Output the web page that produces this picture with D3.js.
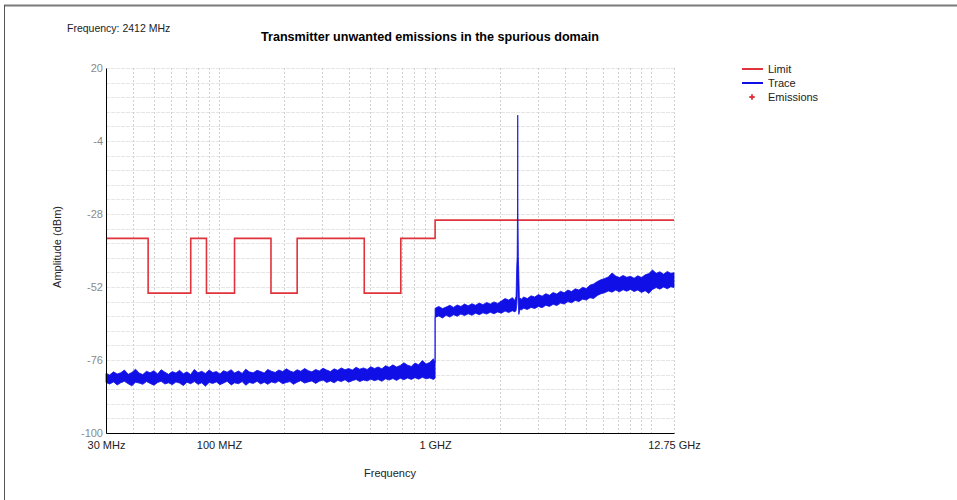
<!DOCTYPE html>
<html>
<head>
<meta charset="utf-8">
<script src="https://cdn.jsdelivr.net/npm/d3@7"></script>
<style>
  html, body { margin: 0; padding: 0; background: #fff; }
  svg { display: block; font-family: "Liberation Sans", Arial, sans-serif; }
</style>
</head>
<body>
<svg id="chart" width="957" height="500"></svg>
<script>
// ---- Data ----
const yTickValues = [20, -4, -28, -52, -76, -100];
const yTickLabels = ["20", "-4", "-28", "-52", "-76", "-100"];
const xTickValues = [30, 100, 1000, 12750];
const xTickLabels = ["30 MHz", "100 MHZ", "1 GHZ", "12.75 GHz"];

// Limit (dBm), step after each frequency (MHz)
const limitFreq  = [30, 47, 74, 87.5, 118, 174, 230, 470, 694, 1000, 12750];
const limitLevel = [-36, -54, -36, -54, -36, -54, -36, -54, -36, -30, -30];

// Trace envelope (MHz, dBm min / max)
const traceFreq = [
  30, 31.2, 32.5, 33.8, 35.1, 36.5, 38, 39.5, 41.1, 42.7, 44.4, 46.2, 48, 50, 52, 54, 56.2, 58.4, 60.8, 63.2,
  65.7, 68.4, 71.1, 73.9, 76.9, 80, 83.2, 86.5, 90, 93.6, 97.3, 101, 105, 109, 114, 118, 123, 128, 133, 138,
  144, 150, 156, 162, 168, 175, 182, 189, 197, 205, 213, 221, 230, 239, 249, 259, 269, 280, 291, 303,
  315, 328, 341, 354, 368, 383, 398, 414, 431, 448, 466, 485, 504, 524, 545, 567, 590, 613, 638, 663,
  690, 717, 746, 776, 807, 839, 873, 908, 944, 982, 1000,
  1000, 1040, 1082, 1125, 1170, 1217, 1265, 1316, 1369, 1423, 1480, 1539, 1601, 1665, 1732, 1801, 1873, 1948, 2026, 2107,
  2191, 2279, 2340, 2370, 2385, 2398, 2408, 2412, 2416, 2428, 2440, 2455, 2475, 2500, 2570, 2673, 2780, 2891, 3007, 3127,
  3252, 3382, 3518, 3658, 3805, 3957, 4115, 4280, 4451, 4629, 4814, 5007, 5207, 5415, 5632, 5857, 6091, 6335, 6588, 6852,
  7126, 7411, 7707, 8016, 8336, 8670, 9016, 9377, 9752, 10142, 10548, 10970, 11409, 11865, 12340, 12750
];
const traceMin = [
  -83.4, -83.9, -83.2, -84.2, -83.5, -83.0, -83.8, -84.5, -83.3, -83.6, -84.0, -83.1, -83.7, -84.3, -83.4, -83.0, -83.9, -83.5, -84.1, -83.2,
  -83.6, -84.4, -83.3, -83.8, -83.1, -84.0, -83.5, -84.6, -83.4, -83.7, -83.2, -84.1, -83.6, -83.0, -84.2, -83.5, -83.8, -83.1, -84.3, -83.4,
  -83.7, -83.0, -83.9, -83.3, -84.0, -83.2, -83.6, -82.9, -83.8, -83.4, -83.1, -84.0, -83.3, -82.8, -83.6, -83.2, -82.9, -83.7, -83.0, -82.6,
  -83.4, -82.9, -83.5, -82.7, -83.1, -82.5, -83.3, -82.8, -82.4, -83.1, -82.6, -82.9, -82.3, -82.8, -82.4, -83.0, -82.2, -82.6, -82.1, -82.7,
  -82.0, -82.5, -81.9, -82.4, -81.8, -82.3, -81.7, -82.2, -81.9, -82.4, -82.0,
  -62.0, -61.5, -62.2, -61.3, -61.9, -61.1, -61.6, -60.9, -61.4, -60.8, -61.3, -60.6, -61.1, -60.5, -60.9, -60.3, -60.8, -60.2, -60.6, -59.9,
  -60.4, -59.8, -60.2, -59.7, -58.0, -55.0, -50.0, -45.0, -52.0, -58.0, -61.0, -60.2, -59.2, -59.6, -59.0, -59.4, -58.7, -59.1, -58.4, -58.8,
  -58.0, -58.4, -57.7, -58.1, -57.3, -57.6, -56.8, -57.2, -56.4, -56.8, -56.0, -56.3, -55.5, -55.8, -54.8, -54.2, -53.9, -53.3, -53.7, -53.0,
  -53.6, -52.9, -53.4, -52.8, -53.5, -53.0, -53.8, -53.2, -54.1, -52.8, -52.2, -52.7, -52.0, -52.6, -51.9, -52.2
];
const traceMax = [
  -80.4, -80.9, -79.9, -80.6, -80.2, -79.3, -80.7, -80.1, -79.0, -80.3, -80.8, -79.7, -80.2, -79.5, -80.6, -79.2, -80.0, -80.7, -79.8, -80.3,
  -79.4, -80.5, -79.9, -80.8, -79.1, -80.2, -79.7, -80.4, -79.3, -80.1, -79.8, -80.6, -79.5, -80.0, -79.2, -80.3, -79.6, -80.4, -79.0, -79.9,
  -80.2, -79.4, -79.8, -80.3, -79.1, -79.7, -80.1, -79.3, -79.8, -78.9, -79.6, -80.0, -79.2, -79.7, -78.8, -79.5, -79.9, -79.1, -79.6, -78.7,
  -79.3, -79.8, -78.9, -79.4, -78.6, -79.2, -78.8, -79.3, -78.4, -79.0, -78.6, -79.1, -78.2, -78.8, -78.3, -78.9, -77.9, -78.4, -77.6, -78.3,
  -77.8, -76.9, -77.7, -78.1, -77.0, -77.6, -76.2, -77.3, -76.8, -75.6, -77.0,
  -59.0, -58.4, -59.1, -58.6, -58.0, -58.7, -57.9, -58.4, -57.6, -58.2, -57.5, -58.0, -57.3, -57.8, -57.1, -57.6, -56.9, -57.4, -56.6, -55.8,
  -56.3, -55.5, -56.4, -55.0, -46.0, -42.0, -25.0, 4.5, -25.0, -42.0, -48.0, -56.0, -55.6, -56.1, -55.3, -55.8, -54.9, -55.3, -54.5, -55.0,
  -54.2, -54.7, -53.8, -54.3, -53.4, -53.9, -53.0, -53.5, -52.6, -53.0, -52.1, -52.5, -51.4, -51.0, -50.2, -49.6, -49.2, -48.7, -47.4, -48.4,
  -48.9, -48.2, -48.8, -48.5, -49.1, -48.3, -48.9, -48.0, -47.6, -46.4, -47.5, -47.0, -47.8, -46.9, -47.5, -47.3
];

const legendItems = ["Limit", "Trace", "Emissions"];
const legendColors = ["#e0333b", "#1010e6", "#e0333b"];

// ---- Layout ----
const svg = d3.select("#chart");
const x = d3.scaleLog().domain([30, 12750]).range([106, 674]);
const y = d3.scaleLinear().domain([-100, 20]).range([433, 68]);

// frame
svg.append("line").attr("x1", 4).attr("x2", 957).attr("y1", 5.5).attr("y2", 5.5)
  .attr("stroke", "#7a7a7a").attr("stroke-width", 2);
svg.append("line").attr("x1", 4.5).attr("x2", 4.5).attr("y1", 5).attr("y2", 500)
  .attr("stroke", "#555").attr("stroke-width", 1);

// grid
const grid = svg.append("g");
const hGrid = d3.range(-100, 20.01, 4.8);
grid.selectAll("line.h").data(hGrid).join("line")
  .attr("x1", 106).attr("x2", 674)
  .attr("y1", d => Math.round(y(d)) + 0.5).attr("y2", d => Math.round(y(d)) + 0.5)
  .attr("stroke", "#e6e6e6").attr("stroke-dasharray", "4,1");
const vGrid = x.ticks().filter(d => d > 30).concat([12750]);
grid.selectAll("line.v").data(vGrid).join("line")
  .attr("x1", d => Math.round(x(d)) + 0.5).attr("x2", d => Math.round(x(d)) + 0.5)
  .attr("y1", 68).attr("y2", 433)
  .attr("stroke", "#d0d0d0").attr("stroke-dasharray", "2,2");

// limit
const limitData = limitFreq.map((f, i) => [f, limitLevel[i]]);
svg.append("path").datum(limitData)
  .attr("fill", "none").attr("stroke", legendColors[0]).attr("stroke-width", 1.6)
  .attr("d", d3.line().x(d => x(d[0])).y(d => y(d[1])).curve(d3.curveStepAfter));

// trace
const traceData = traceFreq.map((f, i) => ({ f, lo: traceMin[i], hi: traceMax[i] }));
svg.append("path").datum(traceData)
  .attr("fill", legendColors[1]).attr("stroke", legendColors[1]).attr("stroke-width", 0.8)
  .attr("d", d3.area().x(d => x(d.f)).y0(d => y(d.lo)).y1(d => y(d.hi)));

// axes
const yAxis = d3.axisLeft(y).tickValues(yTickValues).tickSize(0).tickPadding(3)
  .tickFormat((d, i) => yTickLabels[i]);
const gy = svg.append("g").attr("transform", "translate(106,0)").call(yAxis);
gy.select(".domain").attr("stroke", "#000");
gy.selectAll("text").attr("fill", "#8a8a8a").attr("font-size", 11)
  .attr("font-family", "Liberation Sans, Arial, sans-serif");

const xAxis = d3.axisBottom(x).tickValues(xTickValues).tickSize(0).tickPadding(8)
  .tickFormat((d, i) => xTickLabels[i]);
const gx = svg.append("g").attr("transform", "translate(0,433)").call(xAxis);
gx.select(".domain").attr("stroke", "#000");
gx.selectAll("text").attr("fill", "#222").attr("font-size", 11)
  .attr("font-family", "Liberation Sans, Arial, sans-serif");

// titles
svg.append("text").attr("x", 67).attr("y", 32).attr("font-size", 10.5).attr("fill", "#222")
  .text("Frequency: 2412 MHz");
svg.append("text").attr("x", 430).attr("y", 41).attr("text-anchor", "middle")
  .attr("font-size", 12.6).attr("font-weight", "bold").attr("fill", "#000")
  .text("Transmitter unwanted emissions in the spurious domain");
svg.append("text").attr("x", 390).attr("y", 477).attr("text-anchor", "middle")
  .attr("font-size", 11).attr("fill", "#222").text("Frequency");
svg.append("text").attr("transform", "translate(61,247) rotate(-90)").attr("text-anchor", "middle")
  .attr("font-size", 11).attr("fill", "#222").text("Amplitude (dBm)");

// legend
const lg = svg.append("g");
legendItems.forEach((name, i) => {
  const ly = 69 + i * 14;
  if (i < 2) {
    lg.append("line").attr("x1", 742).attr("x2", 763).attr("y1", ly).attr("y2", ly)
      .attr("stroke", legendColors[i]).attr("stroke-width", 2);
  } else {
    lg.append("path").attr("transform", `translate(752,${ly})`)
      .attr("d", d3.symbol(d3.symbolCross, 16)()).attr("fill", legendColors[i]);
  }
  lg.append("text").attr("x", 768).attr("y", ly + 4).attr("font-size", 11).attr("fill", "#222").text(name);
});
</script>
</body>
</html>
